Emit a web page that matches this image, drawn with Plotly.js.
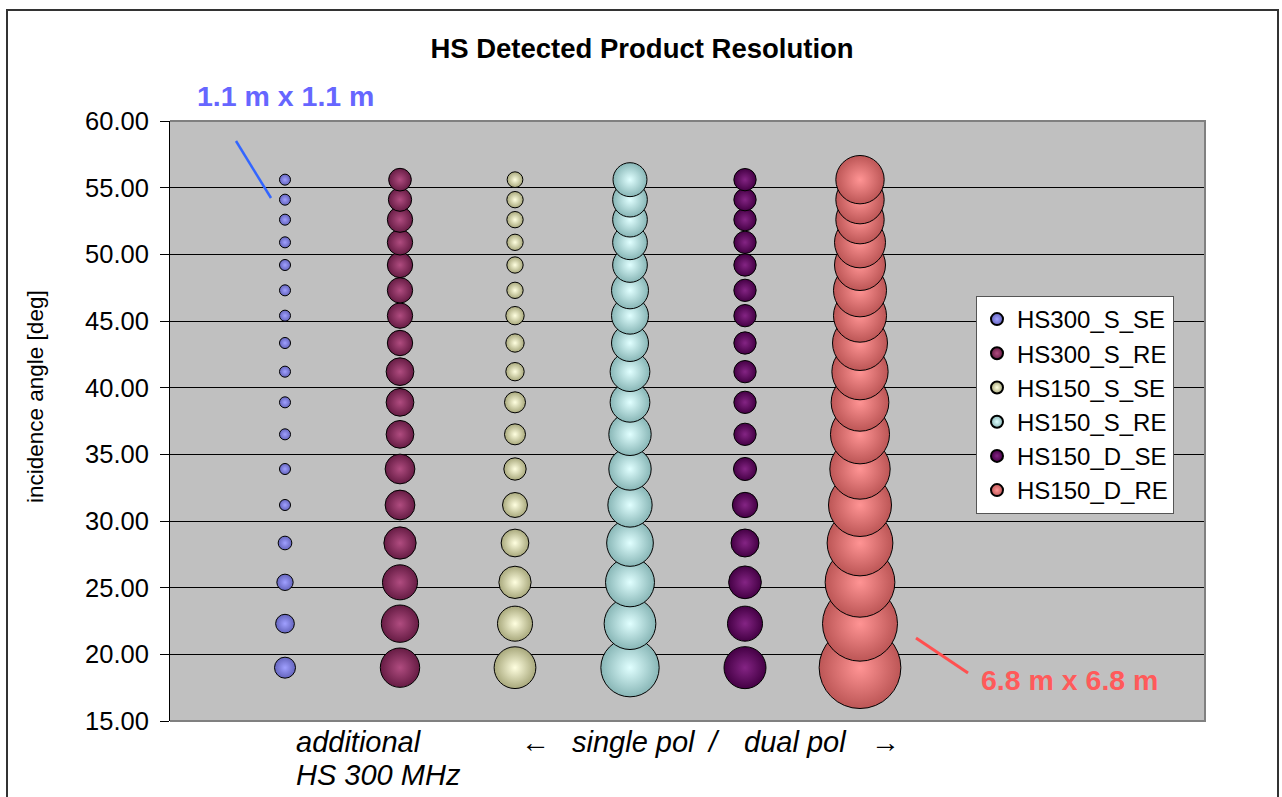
<!DOCTYPE html>
<html>
<head>
<meta charset="utf-8">
<script src="https://cdn.plot.ly/plotly-3.0.1.min.js"></script>
<style>
html,body{margin:0;padding:0;background:#fff;}
#chart{width:1282px;height:797px;}
</style>
</head>
<body>
<div id="chart"></div>
<script>
// incidence angles (deg), shared by every series, from bottom to top
const angles = [19.0, 22.3, 25.4, 28.35, 31.2, 33.9, 36.5, 38.9, 41.2, 43.35, 45.4, 47.3, 49.2, 50.9, 52.6, 54.1, 55.6];

const seriesNames = ['HS300_S_SE', 'HS300_S_RE', 'HS150_S_SE', 'HS150_S_RE', 'HS150_D_SE', 'HS150_D_RE'];
const columnPos = [1, 2, 3, 4, 5, 6];

// resolution (m) -> bubble size
const hs300_S_SE = [1.75, 1.56, 1.36, 1.14, 0.92, 0.92, 0.92, 0.92, 0.92, 0.92, 0.92, 0.92, 0.92, 0.92, 0.92, 0.92, 0.92];
const hs300_S_RE = [3.28, 3.11, 2.92, 2.69, 2.48, 2.48, 2.31, 2.31, 2.31, 2.11, 2.11, 2.11, 2.11, 2.11, 2.11, 1.94, 1.89];
const hs150_S_SE = [3.48, 2.92, 2.69, 2.31, 2.08, 1.86, 1.75, 1.75, 1.53, 1.53, 1.53, 1.36, 1.36, 1.36, 1.36, 1.36, 1.31];
const hs150_S_RE = [4.86, 4.31, 4.08, 3.89, 3.69, 3.53, 3.53, 3.31, 3.31, 3.08, 3.08, 3.08, 2.89, 2.89, 2.89, 2.89, 2.83];
const hs150_D_SE = [3.50, 2.92, 2.73, 2.33, 2.11, 1.92, 1.86, 1.86, 1.86, 1.86, 1.86, 1.86, 1.86, 1.86, 1.86, 1.86, 1.86];
const hs150_D_RE = [6.81, 6.25, 5.81, 5.48, 5.25, 5.03, 4.92, 4.81, 4.69, 4.58, 4.42, 4.42, 4.25, 4.25, 4.03, 4.03, 4.03];

const seriesSizes = [hs300_S_SE, hs300_S_RE, hs150_S_SE, hs150_S_RE, hs150_D_SE, hs150_D_RE];

const yTickVals = [15, 20, 25, 30, 35, 40, 45, 50, 55, 60];

const edgeColors   = ['#6464BC', '#661C44', '#A8A87C', '#88B6B6', '#440044', '#BC5656'];
const centerColors = ['#A0A0FF', '#B04C80', '#FFFFE0', '#E0FFFF', '#842484', '#FF9494'];

const FONT = '"Liberation Sans", Arial, sans-serif';

const traces = seriesNames.map((name, i) => ({
  type: 'scatter',
  mode: 'markers',
  name: name,
  x: angles.map(() => columnPos[i]),
  y: angles,
  marker: {
    size: seriesSizes[i],
    sizemode: 'diameter',
    sizeref: 1 / 12,
    color: edgeColors[i],
    gradient: {type: 'radial', color: centerColors[i]},
    line: {color: '#000', width: 1},
    opacity: 1
  },
  hoverinfo: 'skip',
  cliponaxis: false
}));

// pixel helpers for layout decoration (plot area: x 170..1205, y 121..721)
const L = 170, R = 1205, T = 121, B = 721;
const px = v => (v - L) / (R - L);
const py = v => (B - v) / (B - T);

const italic = {size: 29, family: FONT, color: '#000', style: 'italic'};
const note = (text, x, y, xanchor) => ({
  text: text, xref: 'paper', yref: 'paper', x: px(x), y: py(y),
  xanchor: xanchor, yanchor: 'middle', align: 'left', showarrow: false, font: italic
});

const layout = {
  width: 1282,
  height: 797,
  margin: {l: L, r: 1282 - R, t: T, b: 797 - B, pad: 0},
  paper_bgcolor: '#ffffff',
  plot_bgcolor: '#C0C0C0',
  font: {family: FONT, color: '#000'},
  title: {
    text: '<b>HS Detected Product Resolution</b>',
    font: {size: 27.5, family: FONT, color: '#000'},
    x: 642 / 1282, xref: 'container', xanchor: 'center',
    y: 1 - 48 / 797, yref: 'container', yanchor: 'middle'
  },
  showlegend: true,
  legend: {
    x: px(976), y: py(296), xanchor: 'left', yanchor: 'top',
    bgcolor: '#ffffff', bordercolor: '#555555', borderwidth: 1,
    font: {size: 24, family: FONT, color: '#000'},
    itemsizing: 'constant',
    tracegroupgap: 0
  },
  xaxis: {
    range: [0, 9],
    showgrid: false, zeroline: false, showticklabels: false,
    ticks: '', showline: false, fixedrange: true
  },
  yaxis: {
    range: [15, 60],
    tickvals: yTickVals,
    tickformat: '.2f',
    ticks: 'outside', ticklen: 9, tickcolor: '#000', tickwidth: 1,
    ticklabelstandoff: 6,
    tickfont: {size: 25.5, family: FONT, color: '#000'},
    showgrid: true, gridcolor: '#000', gridwidth: 1,
    zeroline: false,
    showline: true, linecolor: '#000', linewidth: 1,
    fixedrange: true
  },
  shapes: [
    // plot-area border (top, right, bottom) in grey
    {type: 'path', xref: 'paper', yref: 'paper', path: 'M 0 1 L 1 1 L 1 0 L 0 0',
     line: {color: '#808080', width: 2}, layer: 'above'},
    // outer chart frame
    {type: 'rect', xref: 'paper', yref: 'paper', x0: px(7), x1: px(1278), y0: py(830), y1: py(10),
     line: {color: '#333333', width: 2}, fillcolor: 'rgba(0,0,0,0)', layer: 'above'},
    // pointer lines
    {type: 'line', xref: 'paper', yref: 'paper', x0: px(236), y0: py(141), x1: px(271), y1: py(198),
     line: {color: '#3366FF', width: 2.5}, layer: 'above'},
    {type: 'line', xref: 'paper', yref: 'paper', x0: px(916), y0: py(638), x1: px(968), y1: py(673),
     line: {color: '#FF5050', width: 3}, layer: 'above'}
  ],
  annotations: [
    {text: '<b>1.1 m x 1.1 m</b>', xref: 'paper', yref: 'paper', x: px(285), y: py(96),
     xanchor: 'center', yanchor: 'middle', showarrow: false,
     font: {size: 28.5, family: FONT, color: '#6666FF'}},
    {text: '<b>6.8 m x 6.8 m</b>', xref: 'paper', yref: 'paper', x: px(1069), y: py(680),
     xanchor: 'center', yanchor: 'middle', showarrow: false,
     font: {size: 28.5, family: FONT, color: '#FF5A5A'}},
    {text: 'incidence angle [deg]', xref: 'paper', yref: 'paper', x: px(35), y: py(397),
     xanchor: 'center', yanchor: 'middle', showarrow: false, textangle: -90,
     font: {size: 22.5, family: FONT, color: '#000'}},
    note('additional', 294, 742, 'left'),
    note('HS 300 MHz', 294, 775, 'left'),
    note('\u2190', 535, 742, 'center'),
    note('single pol', 570, 742, 'left'),
    note('/', 713, 742, 'center'),
    note('dual pol', 742, 742, 'left'),
    note('\u2192', 885, 742, 'center')
  ],
  hovermode: false
};

Plotly.newPlot('chart', traces, layout, {displayModeBar: false, staticPlot: true});
</script>
</body>
</html>
